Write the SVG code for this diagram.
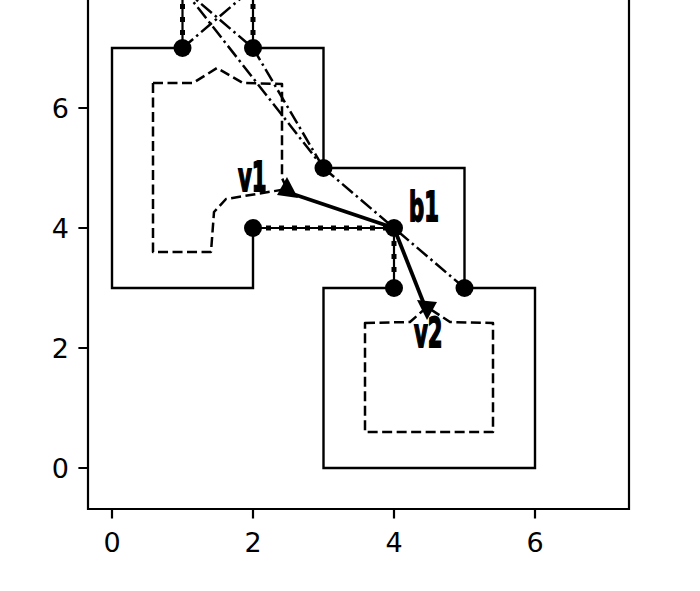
<svg xmlns="http://www.w3.org/2000/svg" width="700" height="591" viewBox="0 0 700 591">
<style>
.wall{fill:none;stroke:#000;stroke-width:2.4;stroke-linejoin:miter}
.door{fill:none;stroke:#000;stroke-width:2.2}
.doordot{fill:none;stroke:#000;stroke-width:5;stroke-dasharray:5,8}
.dd{fill:none;stroke:#000;stroke-width:2.5;stroke-dasharray:14,4,2.5,4}
.room{fill:none;stroke:#000;stroke-width:2.5;stroke-dasharray:10,4.5;stroke-linejoin:round}
.arr{fill:none;stroke:#000;stroke-width:3.8}
.spine{fill:none;stroke:#000;stroke-width:2.2}
.tick{font-family:"DejaVu Sans",sans-serif;font-size:27px;fill:#000}
.lbl{font-family:"DejaVu Sans",sans-serif;font-weight:bold;font-size:40px;fill:#000;stroke:#000;stroke-width:1.8}
</style>
<rect width="700" height="591" fill="#fff"/>
<g id="axes">
<path class="spine" d="M88,-5 V509 H629 V-5"/>
<g class="spine">
<path d="M112,509 v9.6 M253,509 v9.6 M394,509 v9.6 M535,509 v9.6 M88,468 h-9.6 M88,348 h-9.6 M88,228 h-9.6 M88,108 h-9.6"/>
</g>
<text class="tick" x="112" y="552" text-anchor="middle">0</text>
<text class="tick" x="253" y="552" text-anchor="middle">2</text>
<text class="tick" x="394" y="552" text-anchor="middle">4</text>
<text class="tick" x="535" y="552" text-anchor="middle">6</text>
<text class="tick" x="69" y="478" text-anchor="end">0</text>
<text class="tick" x="69" y="358" text-anchor="end">2</text>
<text class="tick" x="69" y="238" text-anchor="end">4</text>
<text class="tick" x="69" y="118" text-anchor="end">6</text>
</g>
<g id="walls">
<path class="wall" d="M182.5,48 H112 V288 H253 V228"/>
<path class="wall" d="M253,48 H323.5 V168 H464.5 V288 H535 V468 H323.5 V288 H394"/>
</g>
<g id="rooms">
<path id="room1" class="room" d="M153,83 L193,83 L217,68 L243,83 L282,84 L282,178 L287,189 L226,199 L214,212 L211,252 L153,252 Z"/>
<path id="room2" class="room" d="M365,323 L410,322 L427,307 L450,322 L493,323 L493,432 L365,432 Z"/>
</g>
<g id="connectors">
<path class="door" d="M253,228 H394 M394,228 V288 M182.5,48 V-20 M253,48 V-20"/>
<path class="doordot" d="M253,228 H394 M394,228 V288 M182.5,48 V-20 M253,48 V-20"/>
<path class="dd" d="M182.5,-12 L323.5,168"/>
<path class="dd" d="M253,48 L323.5,168"/>
<path class="dd" d="M182.5,48 L253,-12"/>
<path class="dd" d="M182.5,-12 L253,48"/>
<path class="dd" d="M323.5,168 L464.5,288"/>
<line class="arr" x1="394" y1="228" x2="290" y2="193"/>
<polygon points="287,177 277,195 298,198" fill="#000"/>
<line class="arr" x1="394" y1="228" x2="424" y2="304"/>
<polygon points="417,300 437,302 427,320" fill="#000"/>
</g>
<g id="points" fill="#000">
<circle cx="182.5" cy="48" r="9"/>
<circle cx="253" cy="48" r="9"/>
<circle cx="323.5" cy="168" r="9"/>
<circle cx="253" cy="228" r="9"/>
<circle cx="394" cy="228" r="9"/>
<circle cx="394" cy="288" r="9"/>
<circle cx="464.5" cy="288" r="9"/>
</g>
<g id="v1"><text class="lbl" transform="translate(238,191) scale(0.53,1)">v1</text></g>
<g id="b1"><text class="lbl" transform="translate(409,221) scale(0.53,1)">b1</text></g>
<g id="v2"><text class="lbl" transform="translate(414,347) scale(0.53,1)">v2</text></g>
</svg>
